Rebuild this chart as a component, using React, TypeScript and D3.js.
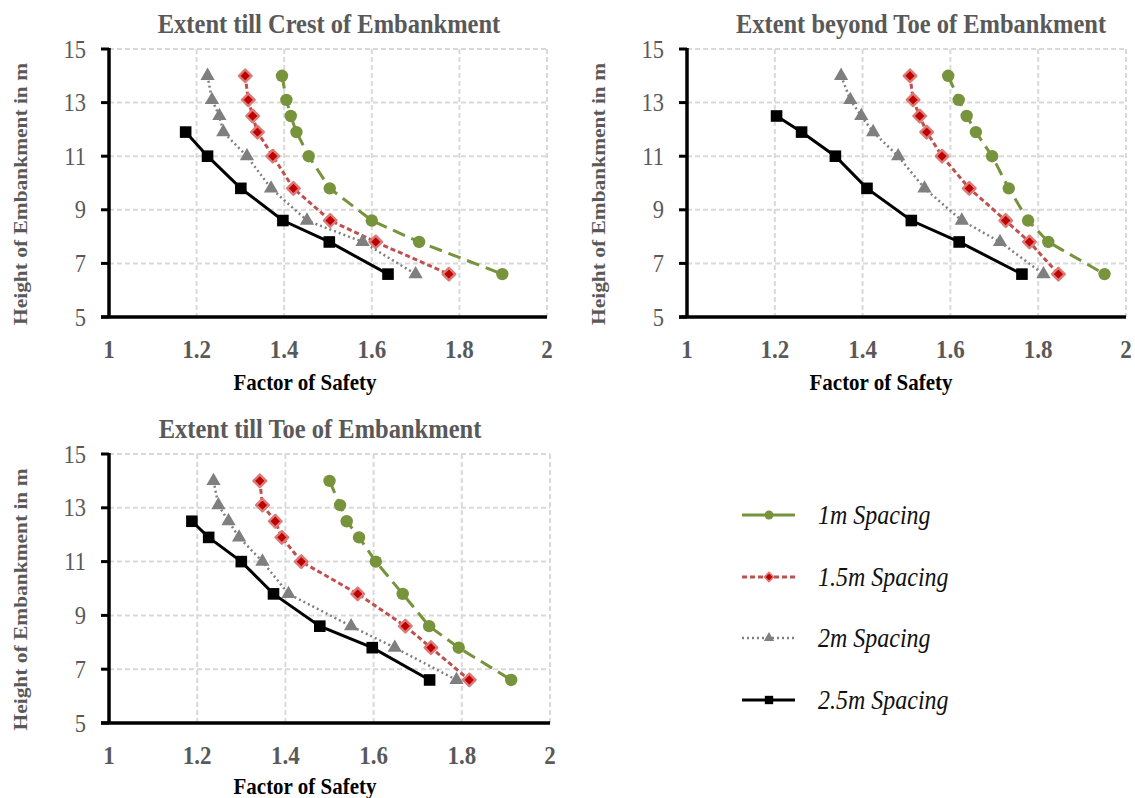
import React from "react";
import * as d3 from "d3";

// Heights of embankment (m) shared by the series
const heights = [14, 13.1, 12.5, 11.9, 11, 9.8, 8.6, 7.8, 6.6];
const heightsCrest25 = [11.9, 11, 9.8, 8.6, 7.8, 6.6];
const heightsToe25 = [12.5, 11.9, 11, 9.8, 8.6, 7.8, 6.6];

// Extent till crest of embankment – factor of safety
const crest1m = [1.395, 1.405, 1.415, 1.428, 1.456, 1.504, 1.6, 1.708, 1.898];
const crest15m = [1.311, 1.318, 1.328, 1.339, 1.374, 1.421, 1.505, 1.609, 1.776];
const crest2m = [1.225, 1.235, 1.252, 1.261, 1.315, 1.37, 1.452, 1.579, 1.7];
const crest25m = [1.175, 1.225, 1.301, 1.397, 1.503, 1.637];

// Extent beyond toe of embankment – factor of safety
const beyond1m = [1.595, 1.619, 1.637, 1.658, 1.695, 1.733, 1.777, 1.823, 1.951];
const beyond15m = [1.508, 1.515, 1.53, 1.546, 1.581, 1.643, 1.726, 1.78, 1.846];
const beyond2m = [1.351, 1.372, 1.397, 1.424, 1.481, 1.541, 1.626, 1.713, 1.812];
const beyond25m = [1.204, 1.261, 1.338, 1.41, 1.511, 1.62, 1.763];

// Extent till toe of embankment – factor of safety
const toe1m = [1.5, 1.524, 1.539, 1.567, 1.605, 1.666, 1.726, 1.793, 1.912];
const toe15m = [1.342, 1.348, 1.377, 1.392, 1.436, 1.564, 1.672, 1.73, 1.817];
const toe2m = [1.237, 1.248, 1.271, 1.295, 1.348, 1.407, 1.549, 1.648, 1.788];
const toe25m = [1.188, 1.226, 1.3, 1.373, 1.478, 1.597, 1.727];

const seriesNames = ["1m Spacing", "1.5m Spacing", "2m Spacing", "2.5m Spacing"];
const xTicks = [1, 1.2, 1.4, 1.6, 1.8, 2];
const yTicks = [5, 7, 9, 11, 13, 15];

const SERIF = "Liberation Serif";
const GREY_TEXT = "#595959";
// glyphs are drawn slightly taller than wide
const SY = 1.1;

type Style = {
  color: string;
  dash: string;
  width: number;
  marker: "circle" | "diamond" | "triangle" | "square";
};

const styles: Style[] = [
  { color: "#77933C", dash: "13,7", width: 3, marker: "circle" },
  { color: "#C0504D", dash: "5,3", width: 3, marker: "diamond" },
  { color: "#808080", dash: "2,3", width: 2.5, marker: "triangle" },
  { color: "#000000", dash: "", width: 3, marker: "square" },
];

type Panel = {
  title: string;
  titleX: number;
  xRange: [number, number];
  yRange: [number, number];
  fosX: number;
  fosDy: number;
  series: { xs: number[]; ys: number[] }[];
};

const panels: Panel[] = [
  {
    title: "Extent till Crest of Embankment",
    titleX: 329,
    xRange: [109, 547],
    yRange: [317, 49],
    fosX: 305,
    fosDy: 65,
    series: [
      { xs: crest1m, ys: heights },
      { xs: crest15m, ys: heights },
      { xs: crest2m, ys: heights },
      { xs: crest25m, ys: heightsCrest25 },
    ],
  },
  {
    title: "Extent beyond Toe of Embankment",
    titleX: 921,
    xRange: [687, 1126],
    yRange: [317, 49],
    fosX: 881,
    fosDy: 65,
    series: [
      { xs: beyond1m, ys: heights },
      { xs: beyond15m, ys: heights },
      { xs: beyond2m, ys: heights },
      { xs: beyond25m, ys: heightsToe25 },
    ],
  },
  {
    title: "Extent till Toe of Embankment",
    titleX: 320,
    xRange: [109, 550],
    yRange: [723, 454],
    fosX: 305,
    fosDy: 63,
    series: [
      { xs: toe1m, ys: heights },
      { xs: toe15m, ys: heights },
      { xs: toe2m, ys: heights },
      { xs: toe25m, ys: heightsToe25 },
    ],
  },
];

function Label({
  x,
  y,
  rotate = 0,
  anchor = "start",
  size,
  bold = false,
  italic = false,
  color,
  children,
}: {
  x: number;
  y: number;
  rotate?: number;
  anchor?: string;
  size: number;
  bold?: boolean;
  italic?: boolean;
  color: string;
  children: React.ReactNode;
}) {
  const tf = `translate(${x},${y}) scale(1,${SY})` + (rotate ? ` rotate(${rotate})` : "");
  const tfRot = rotate ? `translate(${x},${y}) scale(${1},${1}) rotate(${rotate}) scale(${SY},1)` : tf;
  return (
    <text
      transform={rotate ? tfRot : tf}
      dy="0.35em"
      textAnchor={anchor}
      fontFamily={SERIF}
      fontSize={size}
      fontWeight={bold ? "bold" : "normal"}
      fontStyle={italic ? "italic" : "normal"}
      fill={color}
    >
      {children}
    </text>
  );
}

function Marker({ kind, x, y, s, color }: { kind: Style["marker"]; x: number; y: number; s: number; color: string }) {
  if (kind === "circle") return <circle cx={x} cy={y} r={6.2 * s} fill={color} />;
  if (kind === "square")
    return <rect x={x - 5.8 * s} y={y - 5.8 * s} width={11.6 * s} height={11.6 * s} fill="#000" />;
  if (kind === "diamond") {
    const h = 6.3 * s;
    return (
      <path
        d={`M${x},${y - h}L${x + h},${y}L${x},${y + h}L${x - h},${y}Z`}
        fill="#C00000"
        stroke="#DA7B77"
        strokeWidth={2.4 * s}
        strokeLinejoin="round"
      />
    );
  }
  const tri = d3.symbol().type(d3.symbolTriangle).size(88 * s * s)();
  return <path d={tri || ""} transform={`translate(${x},${y})`} fill="#7F7F7F" />;
}

function ChartPanel({ p }: { p: Panel }) {
  const x = d3.scaleLinear().domain([1, 2]).range(p.xRange);
  const y = d3.scaleLinear().domain([5, 15]).range(p.yRange);
  const line = d3
    .line<[number, number]>()
    .x((d) => x(d[0]))
    .y((d) => y(d[1]));
  const [x0, x1] = p.xRange;
  const [yB, yT] = p.yRange;
  return (
    <g>
      {/* grid */}
      {xTicks.slice(1).map((t) => (
        <line key={"gx" + t} x1={x(t)} x2={x(t)} y1={yT} y2={yB} stroke="#D9D9D9" strokeWidth={2} strokeDasharray="5,3" />
      ))}
      {yTicks.slice(1).map((t) => (
        <line key={"gy" + t} x1={x0} x2={x1} y1={y(t)} y2={y(t)} stroke="#D9D9D9" strokeWidth={2} strokeDasharray="5,3" />
      ))}
      {/* series */}
      {p.series.map((s, i) => {
        const st = styles[i];
        const pts = s.xs.map((v, k) => [v, s.ys[k]] as [number, number]);
        return (
          <g key={"s" + i}>
            <path d={line(pts) || ""} fill="none" stroke={st.color} strokeWidth={st.width} strokeDasharray={st.dash || undefined} />
            {pts.map((d, k) => (
              <Marker key={k} kind={st.marker} x={x(d[0])} y={y(d[1])} s={1} color={st.color} />
            ))}
          </g>
        );
      })}
      {/* axes */}
      <line x1={x0} x2={x0} y1={yT - 1} y2={yB} stroke="#000" strokeWidth={3.5} />
      <line x1={x0 - 8} x2={x1} y1={yB} y2={yB} stroke="#000" strokeWidth={3.5} />
      {yTicks.map((t) => (
        <line key={"ty" + t} x1={x0 - 8} x2={x0} y1={y(t)} y2={y(t)} stroke="#000" strokeWidth={3} />
      ))}
      {/* tick labels */}
      {yTicks.map((t) => (
        <Label key={"ly" + t} x={x0 - 23} y={y(t)} anchor="end" size={22.5} color={GREY_TEXT}>
          {t}
        </Label>
      ))}
      {xTicks.map((t) => (
        <Label key={"lx" + t} x={x(t)} y={yB + 32} anchor="middle" size={23} bold color={GREY_TEXT}>
          {d3.format("~g")(t)}
        </Label>
      ))}
      {/* titles */}
      <Label x={p.titleX} y={yT - 25} anchor="middle" size={24.5} bold color={GREY_TEXT}>
        {p.title}
      </Label>
      <Label x={p.fosX} y={yB + p.fosDy} anchor="middle" size={21} bold color="#000">
        Factor of Safety
      </Label>
      <Label x={x0 - 89} y={(yT + yB) / 2 + 11} rotate={-90} anchor="middle" size={19.5} bold color={GREY_TEXT}>
        Height of Embankment in m
      </Label>
    </g>
  );
}

const legendY = [515, 577, 638, 700];

function Legend() {
  return (
    <g>
      {seriesNames.map((name, i) => {
        const st = styles[i];
        const ly = legendY[i];
        return (
          <g key={name}>
            <line
              x1={742}
              x2={795}
              y1={ly}
              y2={ly}
              stroke={st.color}
              strokeWidth={st.width}
              strokeDasharray={i === 0 ? undefined : st.dash || undefined}
            />
            <Marker kind={st.marker} x={769} y={ly} s={0.72} color={st.color} />
            <Label x={818} y={ly} size={24} italic color="#111">
              {name}
            </Label>
          </g>
        );
      })}
    </g>
  );
}

export default function App() {
  return (
    <svg width={1135} height={798} style={{ position: "absolute", left: 0, top: 0, background: "#fff" }}>
      <rect width={1135} height={798} fill="#fff" />
      {panels.map((p) => (
        <ChartPanel key={p.title} p={p} />
      ))}
      <Legend />
    </svg>
  );
}
